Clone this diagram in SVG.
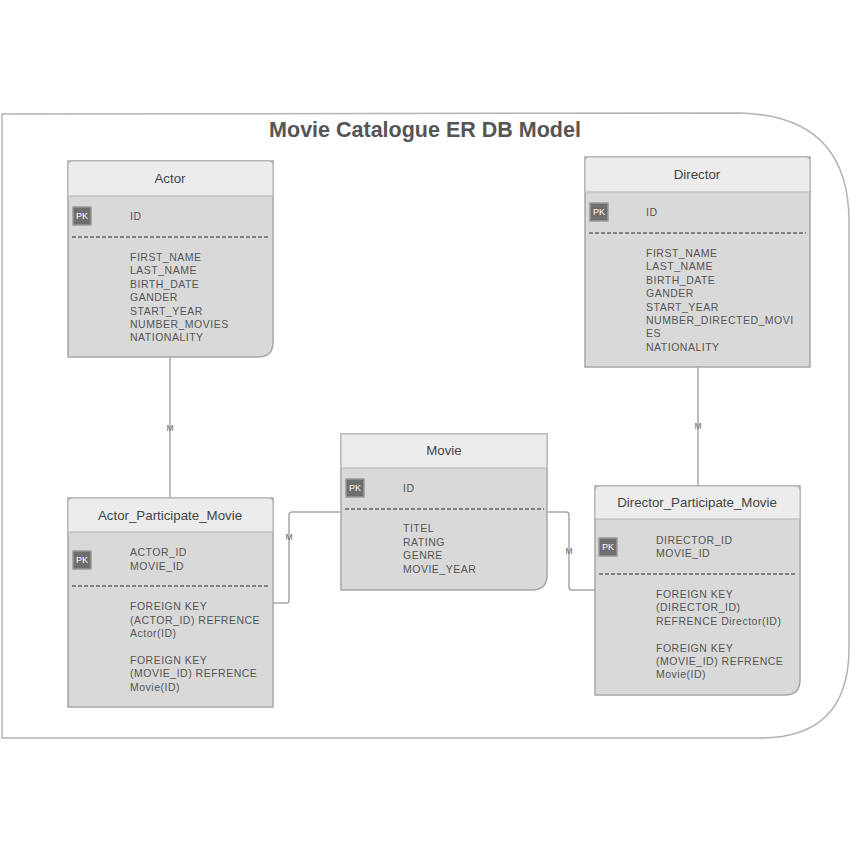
<svg xmlns="http://www.w3.org/2000/svg" width="850" height="850" viewBox="0 0 850 850">
<style>
.frame{fill:none;stroke:#b3b3b3;stroke-width:1.5}
.body{fill:#d9d9d9;stroke:#a6a6a6;stroke-width:1.5}
.head{fill:#ececec;stroke:#b3b3b3;stroke-width:1}
.dash{stroke:#666;stroke-width:1.5;stroke-dasharray:4,2}
.pk{fill:#6e6e6e;stroke:#999;stroke-width:1.5}
.pkt{font-family:"Liberation Sans",Arial,sans-serif;font-size:9px;fill:#fff}
.title{font-family:"Liberation Sans",Arial,sans-serif;font-size:13.3px;fill:#444;text-anchor:middle}
.f{font-family:"Liberation Sans",Arial,sans-serif;font-size:10.5px;fill:#555;letter-spacing:0.5px}
.conn{fill:none;stroke:#a6a6a6;stroke-width:1.5}
.lbl{font-family:"Liberation Sans",Arial,sans-serif;font-size:8.5px;fill:#666;text-anchor:middle}
</style>
<path class="frame" d="M2,114 L740,113 Q848,116 849,220 L849,650 Q848,738 760,738 L2,738 Z"/>
<text x="425" y="137" font-family="Liberation Sans,Arial,sans-serif" font-size="21.5" font-weight="bold" fill="#555" text-anchor="middle">Movie Catalogue ER DB Model</text>

<g id="connectors">
<path class="conn" d="M170,357 L170,498"/>
<text class="lbl" x="170" y="431">M</text>
<path class="conn" d="M698,367 L698,486"/>
<text class="lbl" x="698" y="429">M</text>
<path class="conn" d="M273,603 L287,603 Q289,603 289,600 L289,515 Q289,512 292,512 L341,512"/>
<text class="lbl" x="289" y="540">M</text>
<path class="conn" d="M547,512 L566,512 Q569,512 569,515 L569,587 Q569,590 572,590 L595,590"/>
<text class="lbl" x="569" y="554">M</text>
</g>

<g id="actor">
<path class="body" d="M68,161 L273,161 L273,342 Q273,357 258,357 L68,357 Z"/>
<path class="head" d="M68,196 L68,165 Q68,161 72,161 L269,161 Q273,161 273,165 L273,196 Z"/>
<text class="title" x="170" y="183">Actor</text>
<rect class="pk" x="73" y="207" width="18" height="18"/>
<text class="pkt" x="76" y="219">PK</text>
<text class="f" x="130" y="220">ID</text>
<line class="dash" x1="72" y1="237" x2="270" y2="237"/>
<text class="f" x="130" y="261">FIRST_NAME</text>
<text class="f" x="130" y="274">LAST_NAME</text>
<text class="f" x="130" y="288">BIRTH_DATE</text>
<text class="f" x="130" y="301">GANDER</text>
<text class="f" x="130" y="315">START_YEAR</text>
<text class="f" x="130" y="328">NUMBER_MOVIES</text>
<text class="f" x="130" y="341">NATIONALITY</text>
</g>

<g id="director">
<path class="body" d="M585,157 L810,157 L810,367 L585,367 Z"/>
<path class="head" d="M585,192 L585,161 Q585,157 589,157 L806,157 Q810,157 810,161 L810,192 Z"/>
<text class="title" x="697" y="179">Director</text>
<rect class="pk" x="590" y="203" width="18" height="18"/>
<text class="pkt" x="593" y="215">PK</text>
<text class="f" x="646" y="216">ID</text>
<line class="dash" x1="589" y1="233" x2="806" y2="233"/>
<text class="f" x="646" y="257">FIRST_NAME</text>
<text class="f" x="646" y="270">LAST_NAME</text>
<text class="f" x="646" y="284">BIRTH_DATE</text>
<text class="f" x="646" y="297">GANDER</text>
<text class="f" x="646" y="311">START_YEAR</text>
<text class="f" x="646" y="324">NUMBER_DIRECTED_MOVI</text>
<text class="f" x="646" y="337">ES</text>
<text class="f" x="646" y="351">NATIONALITY</text>
</g>

<g id="actor_participate_movie">
<path class="body" d="M68,498 L273,498 L273,707 L68,707 Z"/>
<path class="head" d="M68,532 L68,502 Q68,498 72,498 L269,498 Q273,498 273,502 L273,532 Z"/>
<text class="title" x="170" y="520">Actor_Participate_Movie</text>
<rect class="pk" x="73" y="551" width="18" height="18"/>
<text class="pkt" x="76" y="563">PK</text>
<text class="f" x="130" y="556">ACTOR_ID</text>
<text class="f" x="130" y="570">MOVIE_ID</text>
<line class="dash" x1="72" y1="586" x2="270" y2="586"/>
<text class="f" x="130" y="610">FOREIGN KEY</text>
<text class="f" x="130" y="624">(ACTOR_ID) REFRENCE</text>
<text class="f" x="130" y="637">Actor(ID)</text>
<text class="f" x="130" y="664">FOREIGN KEY</text>
<text class="f" x="130" y="677">(MOVIE_ID) REFRENCE</text>
<text class="f" x="130" y="691">Movie(ID)</text>
</g>

<g id="movie">
<path class="body" d="M341,434 L547,434 L547,575 Q547,590 532,590 L341,590 Z"/>
<path class="head" d="M341,468 L341,434 L547,434 L547,468 Z"/>
<text class="title" x="444" y="455">Movie</text>
<rect class="pk" x="346" y="479" width="18" height="18"/>
<text class="pkt" x="349" y="491">PK</text>
<text class="f" x="403" y="492">ID</text>
<line class="dash" x1="345" y1="509" x2="544" y2="509"/>
<text class="f" x="403" y="532">TITEL</text>
<text class="f" x="403" y="546">RATING</text>
<text class="f" x="403" y="559">GENRE</text>
<text class="f" x="403" y="573">MOVIE_YEAR</text>
</g>

<g id="director_participate_movie">
<path class="body" d="M595,486 L800,486 L800,680 Q800,695 785,695 L595,695 Z"/>
<path class="head" d="M595,519 L595,490 Q595,486 599,486 L796,486 Q800,486 800,490 L800,519 Z"/>
<text class="title" x="697" y="507">Director_Participate_Movie</text>
<rect class="pk" x="599" y="538" width="18" height="18"/>
<text class="pkt" x="602" y="550">PK</text>
<text class="f" x="656" y="544">DIRECTOR_ID</text>
<text class="f" x="656" y="557">MOVIE_ID</text>
<line class="dash" x1="599" y1="574" x2="797" y2="574"/>
<text class="f" x="656" y="598">FOREIGN KEY</text>
<text class="f" x="656" y="611">(DIRECTOR_ID)</text>
<text class="f" x="656" y="625">REFRENCE Director(ID)</text>
<text class="f" x="656" y="652">FOREIGN KEY</text>
<text class="f" x="656" y="665">(MOVIE_ID) REFRENCE</text>
<text class="f" x="656" y="678">Movie(ID)</text>
</g>
</svg>
